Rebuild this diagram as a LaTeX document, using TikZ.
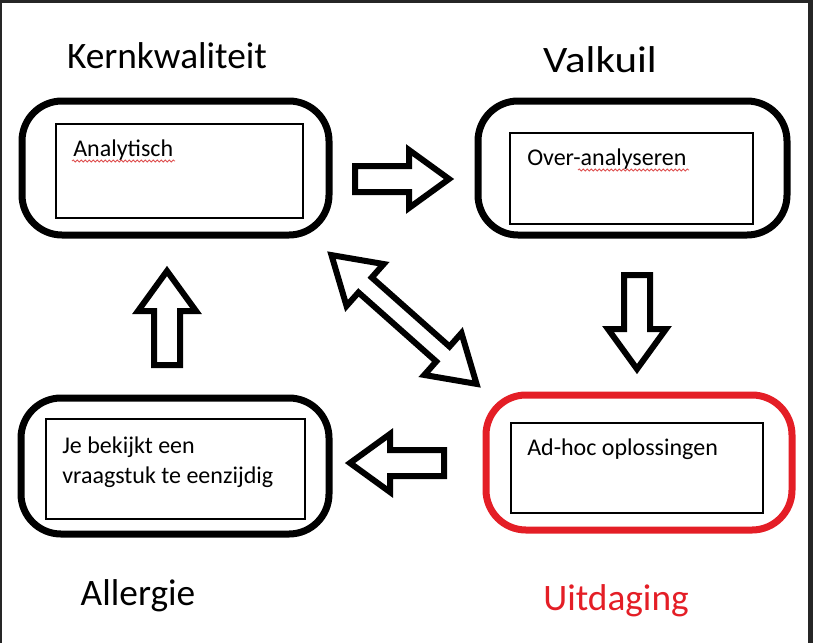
\documentclass[tikz,border=0pt]{standalone}
\usepackage{fontspec}
\setmainfont{Carlito}
\usetikzlibrary{decorations.pathmorphing}
\definecolor{framegray}{HTML}{262626}
\definecolor{boxred}{RGB}{228,30,38}
\definecolor{squigred}{RGB}{222,80,80}
\tikzset{
  outerbox/.style={draw, line width=5.25pt, rounded corners=30pt, inner sep=0pt, rectangle},
  innerbox/.style={draw, line width=1pt, inner sep=0pt, rectangle},
  boxtext/.style={anchor=base west, inner sep=0pt, font=\fontsize{18}{22}\selectfont},
  label/.style={anchor=base, inner sep=0pt, font=\fontsize{28}{32}\selectfont},
  arrowline/.style={draw=black, line width=4.5pt, fill=white, line join=miter},
  squiggle/.style={draw=squigred, line width=0.6pt, decorate, decoration={snake, segment length=3pt, amplitude=0.8pt}},
  blockarrow/.pic={\path[arrowline] (0,-13) -- (54,-13) -- (54,-29) -- (94,0) -- (54,29) -- (54,13) -- (0,13) -- cycle;},
  doublearrow/.pic={\path[arrowline] (-97,0) -- (-52,-28) -- (-52,-10) -- (52,-10) -- (52,-28) -- (97,0) -- (52,28) -- (52,10) -- (-52,10) -- (-52,28) -- cycle;}
}
\begin{document}
\begin{tikzpicture}[x=0.75pt,y=-0.75pt]
\fill[framegray] (0,0) rectangle (813,643);
\fill[white] (2,3) rectangle (808,643);
\useasboundingbox (0,0) rectangle (813,643);

% outer rounded boxes
\node[outerbox, minimum width=230.25pt, minimum height=100.5pt] (kq) at (175.5,168) {};
\node[outerbox, minimum width=231.75pt, minimum height=100.5pt] (vk) at (632.5,168) {};
\node[outerbox, minimum width=231pt, minimum height=102pt] (al) at (175,466) {};
\node[outerbox, draw=boxred, minimum width=229.5pt, minimum height=101.25pt] (ui) at (639,462.5) {};

% inner rectangles
\node[innerbox, minimum width=185.25pt, minimum height=70.5pt] (kqi) at (179.5,171) {};
\node[innerbox, minimum width=182.25pt, minimum height=68.25pt] (vki) at (631.5,178.5) {};
\node[innerbox, minimum width=194.25pt, minimum height=75pt] (ali) at (175.5,469) {};
\node[innerbox, minimum width=189pt, minimum height=67.5pt] (uii) at (637,468) {};

% box texts
\node[boxtext] (t1) at (73,156) {Analytisch};
\node[boxtext] (t2) at (527,165) {Over-analyseren};
\node[boxtext] (t3a) at (62,453) {Je bekijkt een};
\node[boxtext] (t3b) at (62,483) {vraagstuk te eenzijdig};
\node[boxtext] (t4) at (527,455) {Ad-hoc oplossingen};

% spell-check squiggles
\path[squiggle] (72,161) -- (175,161);
\path[squiggle] (578,170) -- (689,170);

% labels
\node[label] (l1) at (167,68) {Kernkwaliteit};
\node[label] (l2) at (600,72) {\scalebox{1.15}[1]{Valkuil}};
\node[label] (l3) at (138,605) {Allergie};
\node[label, text=boxred] (l4) at (616,610) {Uitdaging};

% block arrows
\pic at (355,179) {blockarrow};
\pic[rotate=-90] at (637,275) {blockarrow};
\pic[rotate=180] at (444,463) {blockarrow};
\pic[rotate=90] at (167,365) {blockarrow};
\pic[rotate=-41.6] at (404,319.5) {doublearrow};
\end{tikzpicture}
\end{document}
